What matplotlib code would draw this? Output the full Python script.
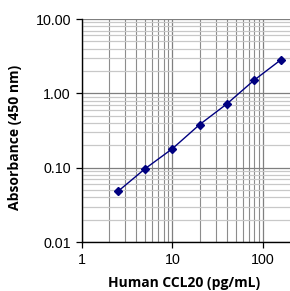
import numpy as np
import matplotlib
matplotlib.use("Agg")
import matplotlib.pyplot as plt
from matplotlib.ticker import FixedLocator, FuncFormatter, NullFormatter

# standard curve values
conc = [2.5, 5, 10, 20, 40, 80, 160]
absorb = [0.048, 0.097, 0.18, 0.38, 0.72, 1.5, 2.85]

x_ticks = [1, 10, 100]
y_ticks = [0.01, 0.1, 1, 10]

plt.rcParams['font.family'] = 'Liberation Sans'

fig = plt.figure(figsize=(2.90, 2.91), dpi=100)
ax = fig.add_axes([82/290, 1-242/291, 208/290, 223/291])

ax.set_xscale('log')
ax.set_yscale('log')
ax.set_xlim(1, 200)
ax.set_ylim(0.01, 10)

# gridlines
ax.xaxis.set_major_locator(FixedLocator(x_ticks))
ax.yaxis.set_major_locator(FixedLocator(y_ticks))
minx = [m * d for d in [1, 10, 100] for m in range(2, 10) if m * d < 200]
miny = [m * d for d in [0.01, 0.1, 1] for m in range(2, 10)]
ax.xaxis.set_minor_locator(FixedLocator(minx))
ax.yaxis.set_minor_locator(FixedLocator(miny))
ax.xaxis.set_minor_formatter(NullFormatter())
ax.yaxis.set_minor_formatter(NullFormatter())

ax.grid(which='major', axis='both', color='#7f7f7f', lw=0.9)
ax.grid(which='minor', axis='y', color='#c8c8c8', lw=0.9)
ax.grid(which='minor', axis='x', color='#8c8c8c', lw=0.8)
ax.set_axisbelow(True)

ax.plot(conc, absorb, color='#000080', lw=1.0, marker='D', ms=4,
        mfc='#000080', mec='#000080', zorder=3)

ax.xaxis.set_major_formatter(FuncFormatter(lambda v, p: '%d' % v))
ax.yaxis.set_major_formatter(FuncFormatter(lambda v, p: '%.2f' % v))

ax.tick_params(which='major', length=4, width=0.9, color='black', labelsize=10.3, pad=4)
ax.tick_params(which='minor', length=0)

for s in ['top', 'right']:
    ax.spines[s].set_visible(False)
ax.spines['left'].set_color('black')
ax.spines['bottom'].set_color('black')
ax.spines['left'].set_linewidth(1.0)
ax.spines['bottom'].set_linewidth(1.0)

ax.set_xlabel('Human CCL20 (pg/mL)', fontsize=10, fontweight='bold', family='Open Sans', va='center')
ax.set_ylabel('Absorbance (450 nm)', fontsize=10, fontweight='bold', family='Open Sans', va='center')
ax.xaxis.set_label_coords(0.49, -0.184)
ax.yaxis.set_label_coords(-0.322, 0.47)

fig.savefig('out.png', dpi=100)
